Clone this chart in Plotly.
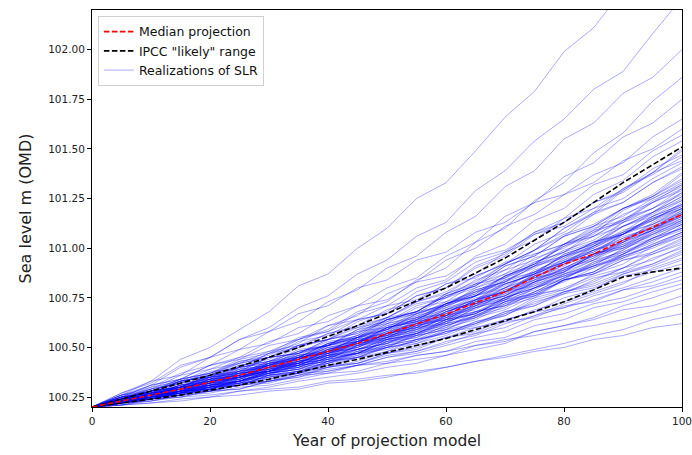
import plotly.graph_objects as go

years = list(range(0, 101, 5))

median_projection = [100.20, 100.23, 100.26, 100.29, 100.325, 100.36, 100.40, 100.44, 100.48, 100.52,
                     100.57, 100.62, 100.667, 100.725, 100.78, 100.855, 100.92, 100.97, 101.04, 101.105, 101.17]
likely_upper = [100.20, 100.24, 100.28, 100.32, 100.36, 100.405, 100.45, 100.50, 100.555, 100.61,
                100.67, 100.735, 100.80, 100.875, 100.95, 101.04, 101.13, 101.23, 101.33, 101.42, 101.51]
likely_lower = [100.20, 100.22, 100.24, 100.26, 100.285, 100.31, 100.34, 100.375, 100.41, 100.44,
                100.475, 100.51, 100.545, 100.59, 100.635, 100.68, 100.73, 100.79, 100.855, 100.88, 100.90]

realizations = [
    [100.20,100.21,100.22,100.24,100.25,100.28,100.29,100.30,100.33,100.34,100.36,100.37,100.40,100.43,100.45,100.48,100.50,100.54,100.56,100.60,100.62],
    [100.20,100.21,100.22,100.23,100.25,100.26,100.28,100.29,100.32,100.33,100.35,100.38,100.40,100.43,100.46,100.49,100.52,100.56,100.59,100.64,100.67],
    [100.20,100.22,100.25,100.27,100.29,100.32,100.34,100.37,100.38,100.41,100.43,100.46,100.48,100.51,100.54,100.56,100.59,100.61,100.64,100.68,100.72],
    [100.20,100.22,100.23,100.26,100.27,100.30,100.31,100.34,100.37,100.38,100.42,100.44,100.46,100.51,100.53,100.58,100.61,100.64,100.69,100.71,100.76],
    [100.20,100.21,100.23,100.25,100.26,100.28,100.30,100.33,100.35,100.37,100.40,100.42,100.46,100.49,100.52,100.58,100.61,100.65,100.71,100.75,100.80],
    [100.20,100.22,100.24,100.27,100.28,100.31,100.33,100.36,100.39,100.41,100.45,100.47,100.51,100.55,100.58,100.64,100.67,100.72,100.75,100.80,100.84],
    [100.20,100.23,100.26,100.30,100.32,100.35,100.38,100.42,100.44,100.47,100.51,100.54,100.58,100.60,100.64,100.68,100.70,100.74,100.79,100.83,100.88],
    [100.20,100.22,100.25,100.27,100.30,100.32,100.35,100.38,100.41,100.45,100.47,100.51,100.55,100.60,100.63,100.69,100.73,100.78,100.83,100.88,100.92],
    [100.20,100.22,100.24,100.25,100.28,100.29,100.33,100.35,100.38,100.41,100.45,100.48,100.53,100.56,100.62,100.66,100.72,100.77,100.82,100.90,100.95],
    [100.20,100.23,100.24,100.28,100.30,100.33,100.37,100.39,100.42,100.46,100.50,100.53,100.58,100.62,100.68,100.72,100.78,100.82,100.88,100.92,100.98],
    [100.20,100.24,100.27,100.30,100.35,100.38,100.41,100.46,100.48,100.53,100.56,100.59,100.65,100.68,100.71,100.77,100.79,100.85,100.88,100.95,101.00],
    [100.20,100.22,100.26,100.28,100.31,100.33,100.37,100.41,100.43,100.48,100.51,100.56,100.59,100.65,100.69,100.76,100.80,100.86,100.90,100.97,101.02],
    [100.20,100.21,100.24,100.27,100.28,100.31,100.33,100.37,100.40,100.43,100.48,100.52,100.56,100.62,100.66,100.73,100.77,100.84,100.90,100.98,101.04],
    [100.20,100.23,100.25,100.29,100.31,100.35,100.38,100.40,100.45,100.49,100.52,100.58,100.61,100.66,100.73,100.77,100.84,100.88,100.95,101.00,101.06],
    [100.20,100.24,100.28,100.33,100.35,100.40,100.43,100.48,100.51,100.55,100.60,100.63,100.69,100.72,100.78,100.81,100.86,100.91,100.95,101.02,101.08],
    [100.20,100.23,100.25,100.28,100.33,100.35,100.39,100.41,100.46,100.50,100.55,100.58,100.64,100.68,100.75,100.80,100.87,100.92,100.98,101.05,101.10],
    [100.20,100.22,100.25,100.26,100.30,100.31,100.36,100.38,100.42,100.47,100.50,100.56,100.59,100.66,100.70,100.78,100.83,100.90,100.97,101.05,101.12],
    [100.20,100.23,100.27,100.29,100.33,100.35,100.40,100.43,100.46,100.52,100.55,100.61,100.64,100.72,100.76,100.84,100.89,100.95,101.02,101.07,101.14],
    [100.20,100.25,100.28,100.34,100.37,100.42,100.45,100.51,100.54,100.58,100.64,100.67,100.72,100.78,100.82,100.87,100.93,100.96,101.03,101.09,101.16],
    [100.20,100.22,100.26,100.30,100.32,100.37,100.39,100.45,100.47,100.53,100.56,100.62,100.66,100.74,100.78,100.86,100.91,100.99,101.03,101.11,101.17],
    [100.20,100.22,100.24,100.28,100.29,100.33,100.37,100.39,100.44,100.47,100.53,100.57,100.63,100.67,100.75,100.80,100.88,100.94,101.03,101.09,101.18],
    [100.20,100.24,100.26,100.29,100.34,100.36,100.41,100.44,100.50,100.53,100.58,100.62,100.69,100.74,100.80,100.88,100.93,101.00,101.07,101.14,101.20],
    [100.20,100.24,100.30,100.33,100.39,100.42,100.48,100.51,100.57,100.60,100.65,100.72,100.75,100.82,100.85,100.92,100.96,101.03,101.07,101.16,101.22],
    [100.20,100.23,100.27,100.31,100.33,100.38,100.42,100.45,100.51,100.54,100.61,100.64,100.71,100.76,100.84,100.90,100.98,101.03,101.11,101.16,101.24],
    [100.20,100.23,100.24,100.28,100.31,100.33,100.38,100.42,100.44,100.51,100.54,100.61,100.65,100.73,100.77,100.86,100.92,101.01,101.08,101.18,101.26],
    [100.20,100.24,100.26,100.31,100.35,100.37,100.43,100.46,100.52,100.55,100.62,100.66,100.73,100.78,100.86,100.92,101.01,101.06,101.14,101.20,101.28],
    [100.20,100.25,100.31,100.34,100.41,100.44,100.51,100.54,100.61,100.64,100.71,100.74,100.82,100.85,100.93,100.97,101.02,101.10,101.14,101.24,101.31],
    [100.20,100.24,100.28,100.30,100.36,100.38,100.45,100.47,100.54,100.57,100.64,100.68,100.76,100.81,100.91,100.96,101.06,101.11,101.20,101.26,101.34],
    [100.20,100.23,100.26,100.27,100.33,100.34,100.40,100.42,100.49,100.52,100.60,100.63,100.72,100.76,100.86,100.91,101.02,101.07,101.19,101.26,101.37],
    [100.20,100.25,100.27,100.33,100.35,100.41,100.44,100.51,100.54,100.61,100.65,100.73,100.77,100.86,100.92,101.02,101.08,101.18,101.23,101.33,101.40],
    [100.20,100.26,100.30,100.37,100.41,100.49,100.52,100.60,100.63,100.71,100.74,100.83,100.86,100.95,100.99,101.07,101.11,101.20,101.25,101.35,101.43],
    [100.20,100.24,100.29,100.32,100.37,100.40,100.47,100.50,100.57,100.61,100.69,100.73,100.82,100.87,100.98,101.04,101.15,101.20,101.30,101.37,101.46],
    [100.20,100.23,100.27,100.28,100.34,100.36,100.42,100.45,100.52,100.56,100.64,100.68,100.77,100.82,100.92,100.99,101.10,101.17,101.29,101.38,101.49],
    [100.20,100.25,100.29,100.34,100.37,100.44,100.47,100.55,100.58,100.67,100.71,100.80,100.84,100.96,101.02,101.14,101.20,101.32,101.37,101.49,101.57],
    [100.20,100.27,100.32,100.41,100.45,100.54,100.58,100.67,100.71,100.80,100.84,100.94,100.98,101.08,101.13,101.23,101.27,101.37,101.43,101.56,101.65],
    [100.20,100.25,100.31,100.34,100.41,100.45,100.53,100.57,100.66,100.71,100.80,100.85,100.96,101.03,101.16,101.23,101.36,101.43,101.56,101.63,101.75],
    [100.20,100.24,100.28,100.33,100.36,100.43,100.46,100.54,100.59,100.68,100.73,100.84,100.90,101.03,101.10,101.24,101.33,101.48,101.58,101.74,101.86],
    [100.20,100.26,100.33,100.36,100.45,100.49,100.58,100.63,100.73,100.79,100.90,100.96,101.08,101.16,101.31,101.39,101.55,101.63,101.78,101.86,102.00],
    [100.20,100.26,100.31,100.40,100.45,100.54,100.60,100.70,100.76,100.87,100.94,101.06,101.13,101.29,101.39,101.54,101.65,101.80,101.89,102.08,102.26],
    [100.20,100.27,100.33,100.44,100.50,100.59,100.68,100.81,100.87,101.00,101.10,101.25,101.33,101.49,101.66,101.79,101.99,102.11,102.30,102.42,102.60],
    [100.20,100.23,100.25,100.28,100.30,100.33,100.35,100.37,100.41,100.42,100.46,100.48,100.52,100.57,100.60,100.66,100.70,100.76,100.80,100.85,100.90],
    [100.20,100.22,100.24,100.26,100.29,100.31,100.35,100.37,100.42,100.45,100.50,100.53,100.59,100.62,100.68,100.71,100.77,100.80,100.86,100.89,100.94],
    [100.20,100.22,100.25,100.28,100.29,100.33,100.36,100.38,100.43,100.45,100.50,100.52,100.58,100.61,100.67,100.71,100.78,100.81,100.87,100.91,100.97],
    [100.20,100.22,100.23,100.26,100.28,100.31,100.32,100.36,100.40,100.42,100.47,100.49,100.55,100.58,100.64,100.68,100.75,100.79,100.87,100.92,100.99],
    [100.20,100.24,100.26,100.30,100.32,100.35,100.37,100.41,100.43,100.47,100.49,100.54,100.57,100.63,100.66,100.74,100.78,100.83,100.90,100.94,101.01],
    [100.20,100.22,100.25,100.26,100.30,100.32,100.37,100.39,100.44,100.47,100.54,100.57,100.64,100.67,100.74,100.77,100.84,100.87,100.94,100.97,101.03],
    [100.20,100.23,100.26,100.27,100.32,100.33,100.38,100.40,100.45,100.47,100.53,100.56,100.62,100.65,100.73,100.76,100.84,100.87,100.94,100.98,101.05],
    [100.20,100.22,100.24,100.27,100.28,100.32,100.34,100.38,100.40,100.45,100.48,100.54,100.57,100.63,100.67,100.75,100.79,100.87,100.92,101.01,101.07],
    [100.20,100.24,100.27,100.29,100.34,100.35,100.40,100.41,100.46,100.47,100.53,100.55,100.61,100.65,100.72,100.76,100.84,100.88,100.96,101.01,101.08],
    [100.20,100.23,100.24,100.28,100.29,100.34,100.36,100.42,100.44,100.51,100.55,100.62,100.65,100.72,100.76,100.83,100.87,100.94,100.98,101.04,101.09],
    [100.20,100.22,100.27,100.29,100.31,100.36,100.38,100.43,100.45,100.51,100.53,100.60,100.62,100.70,100.74,100.82,100.86,100.93,100.97,101.05,101.10],
    [100.20,100.23,100.24,100.27,100.30,100.31,100.36,100.37,100.43,100.45,100.51,100.54,100.60,100.64,100.71,100.75,100.84,100.88,100.97,101.03,101.11],
    [100.20,100.23,100.28,100.29,100.35,100.36,100.41,100.42,100.48,100.49,100.54,100.56,100.63,100.67,100.74,100.79,100.87,100.91,101.00,101.05,101.12],
    [100.20,100.22,100.25,100.28,100.29,100.35,100.37,100.43,100.45,100.53,100.56,100.64,100.67,100.75,100.78,100.86,100.90,100.97,101.01,101.08,101.13],
    [100.20,100.22,100.26,100.30,100.31,100.37,100.38,100.44,100.46,100.53,100.55,100.62,100.64,100.72,100.76,100.85,100.88,100.97,101.00,101.09,101.14],
    [100.20,100.23,100.24,100.28,100.29,100.33,100.35,100.40,100.42,100.48,100.50,100.57,100.60,100.68,100.71,100.80,100.84,100.93,100.99,101.08,101.15],
    [100.20,100.25,100.27,100.31,100.34,100.38,100.40,100.45,100.47,100.52,100.54,100.60,100.63,100.71,100.75,100.83,100.88,100.97,101.01,101.10,101.16],
    [100.20,100.22,100.26,100.27,100.31,100.34,100.39,100.42,100.48,100.52,100.59,100.64,100.71,100.76,100.82,100.87,100.94,100.99,101.06,101.10,101.17],
    [100.20,100.24,100.26,100.30,100.32,100.37,100.39,100.45,100.47,100.54,100.57,100.63,100.66,100.74,100.78,100.87,100.92,100.99,101.04,101.12,101.18],
    [100.20,100.22,100.25,100.26,100.31,100.32,100.37,100.39,100.45,100.47,100.54,100.57,100.64,100.67,100.75,100.81,100.89,100.95,101.04,101.10,101.19],
    [100.20,100.24,100.28,100.30,100.36,100.37,100.42,100.44,100.50,100.51,100.57,100.60,100.67,100.71,100.79,100.84,100.93,100.98,101.07,101.12,101.20],
    [100.20,100.23,100.25,100.29,100.30,100.36,100.38,100.45,100.48,100.55,100.59,100.67,100.72,100.79,100.83,100.91,100.96,101.03,101.08,101.15,101.21],
    [100.20,100.23,100.27,100.29,100.34,100.36,100.42,100.44,100.50,100.53,100.60,100.63,100.70,100.74,100.83,100.88,100.96,101.01,101.09,101.14,101.22],
    [100.20,100.22,100.25,100.28,100.31,100.32,100.38,100.40,100.46,100.48,100.55,100.58,100.66,100.69,100.78,100.83,100.92,100.97,101.07,101.14,101.23],
    [100.20,100.25,100.27,100.33,100.35,100.40,100.42,100.47,100.51,100.53,100.59,100.62,100.69,100.74,100.82,100.87,100.97,101.02,101.11,101.17,101.25],
    [100.20,100.23,100.26,100.28,100.33,100.35,100.41,100.44,100.51,100.55,100.64,100.68,100.76,100.81,100.89,100.94,101.02,101.06,101.15,101.20,101.27],
    [100.20,100.24,100.26,100.31,100.33,100.39,100.41,100.48,100.51,100.58,100.60,100.68,100.71,100.80,100.85,100.95,101.00,101.09,101.13,101.23,101.29],
    [100.20,100.23,100.26,100.27,100.32,100.33,100.39,100.41,100.47,100.50,100.57,100.61,100.68,100.73,100.82,100.87,100.97,101.02,101.13,101.20,101.30],
    [100.20,100.24,100.29,100.32,100.38,100.39,100.45,100.47,100.53,100.55,100.61,100.65,100.72,100.77,100.86,100.92,101.01,101.08,101.17,101.23,101.32],
    [100.20,100.23,100.26,100.30,100.32,100.38,100.41,100.47,100.51,100.59,100.65,100.73,100.78,100.86,100.92,100.99,101.07,101.12,101.20,101.25,101.33],
    [100.20,100.23,100.28,100.30,100.36,100.38,100.45,100.47,100.54,100.57,100.65,100.68,100.76,100.81,100.91,100.96,101.06,101.11,101.20,101.26,101.35],
    [100.20,100.22,100.26,100.28,100.33,100.34,100.40,100.43,100.49,100.52,100.60,100.64,100.72,100.77,100.86,100.92,101.02,101.09,101.20,101.27,101.38],
    [100.20,100.26,100.28,100.34,100.37,100.43,100.45,100.51,100.54,100.60,100.63,100.71,100.75,100.84,100.89,100.99,101.06,101.17,101.23,101.33,101.41],
    [100.20,100.24,100.26,100.31,100.33,100.40,100.43,100.50,100.54,100.63,100.68,100.78,100.83,100.93,100.98,101.08,101.13,101.23,101.28,101.38,101.44],
    [100.20,100.25,100.27,100.33,100.36,100.42,100.45,100.53,100.56,100.64,100.67,100.76,100.80,100.90,100.96,101.07,101.13,101.23,101.29,101.40,101.47],
    [100.20,100.23,100.27,100.29,100.34,100.36,100.42,100.45,100.52,100.56,100.64,100.68,100.77,100.83,100.92,100.99,101.10,101.18,101.30,101.38,101.50],
    [100.20,100.21,100.24,100.25,100.28,100.29,100.33,100.35,100.40,100.42,100.47,100.50,100.55,100.57,100.63,100.65,100.71,100.73,100.79,100.81,100.86],
    [100.20,100.23,100.24,100.27,100.29,100.32,100.33,100.36,100.37,100.41,100.42,100.46,100.48,100.53,100.55,100.61,100.64,100.70,100.73,100.78,100.82],
    [100.20,100.26,100.29,100.36,100.39,100.45,100.48,100.54,100.58,100.64,100.67,100.76,100.80,100.91,100.97,101.08,101.15,101.27,101.34,101.46,101.54],
    [100.20,100.24,100.28,100.30,100.36,100.40,100.47,100.52,100.61,100.66,100.77,100.83,100.94,101.00,101.11,101.17,101.27,101.33,101.44,101.50,101.60],
    [100.20,100.22,100.25,100.27,100.30,100.33,100.37,100.40,100.45,100.49,100.55,100.59,100.65,100.70,100.75,100.80,100.86,100.90,100.96,101.01,101.06],
    [100.20,100.23,100.25,100.29,100.31,100.35,100.38,100.42,100.46,100.49,100.54,100.57,100.63,100.68,100.73,100.80,100.85,100.91,100.96,101.02,101.08],
    [100.20,100.24,100.26,100.30,100.33,100.37,100.39,100.43,100.46,100.49,100.52,100.57,100.62,100.66,100.73,100.78,100.85,100.91,100.97,101.04,101.10],
    [100.20,100.22,100.25,100.27,100.31,100.33,100.38,100.41,100.47,100.51,100.57,100.62,100.68,100.73,100.79,100.85,100.89,100.96,101.00,101.07,101.12],
    [100.20,100.22,100.25,100.26,100.30,100.31,100.36,100.38,100.43,100.46,100.52,100.55,100.61,100.66,100.72,100.78,100.85,100.92,100.99,101.07,101.14],
    [100.20,100.23,100.26,100.29,100.33,100.35,100.40,100.43,100.48,100.51,100.57,100.60,100.66,100.71,100.78,100.84,100.90,100.97,101.02,101.09,101.15],
    [100.20,100.23,100.24,100.28,100.30,100.35,100.38,100.43,100.47,100.53,100.58,100.65,100.69,100.76,100.81,100.88,100.93,100.99,101.05,101.10,101.16],
    [100.20,100.24,100.28,100.30,100.35,100.37,100.41,100.45,100.48,100.52,100.55,100.61,100.64,100.71,100.76,100.83,100.90,100.96,101.04,101.09,101.17],
    [100.20,100.23,100.27,100.29,100.33,100.36,100.41,100.44,100.49,100.52,100.58,100.61,100.68,100.73,100.80,100.85,100.93,100.98,101.05,101.11,101.18],
    [100.20,100.22,100.26,100.27,100.32,100.34,100.39,100.42,100.49,100.53,100.60,100.64,100.72,100.76,100.84,100.88,100.96,101.00,101.08,101.12,101.19],
    [100.20,100.23,100.24,100.28,100.29,100.34,100.36,100.41,100.43,100.49,100.52,100.59,100.62,100.70,100.74,100.83,100.88,100.97,101.03,101.13,101.20],
    [100.20,100.24,100.26,100.31,100.32,100.38,100.40,100.46,100.48,100.55,100.57,100.65,100.67,100.76,100.80,100.89,100.94,101.02,101.07,101.15,101.21],
    [100.20,100.25,100.27,100.32,100.34,100.39,100.41,100.46,100.49,100.54,100.56,100.63,100.66,100.74,100.78,100.87,100.93,101.01,101.07,101.16,101.22],
    [100.20,100.22,100.26,100.28,100.32,100.35,100.41,100.44,100.51,100.55,100.63,100.67,100.75,100.80,100.87,100.93,100.98,101.06,101.11,101.18,101.24],
    [100.20,100.23,100.27,100.29,100.35,100.37,100.43,100.45,100.52,100.54,100.62,100.65,100.72,100.76,100.85,100.91,100.99,101.04,101.13,101.18,101.26],
    [100.20,100.23,100.26,100.27,100.31,100.33,100.38,100.41,100.47,100.50,100.57,100.60,100.68,100.72,100.80,100.86,100.95,101.01,101.11,101.18,101.28],
    [100.20,100.25,100.28,100.33,100.36,100.41,100.43,100.48,100.51,100.56,100.59,100.66,100.70,100.78,100.83,100.93,100.98,101.08,101.14,101.23,101.30],
    [100.20,100.22,100.26,100.28,100.33,100.35,100.40,100.42,100.48,100.50,100.56,100.59,100.66,100.70,100.77,100.82,100.90,100.94,101.01,101.06,101.13],
    [100.20,100.23,100.25,100.29,100.30,100.36,100.38,100.44,100.48,100.55,100.59,100.67,100.71,100.79,100.83,100.91,100.95,101.03,101.07,101.15,101.20],
    [100.20,100.24,100.26,100.32,100.34,100.40,100.42,100.49,100.51,100.59,100.62,100.70,100.73,100.82,100.87,100.97,101.02,101.11,101.16,101.25,101.32],
]

y_ticks = [100.25, 100.50, 100.75, 101.00, 101.25, 101.50, 101.75, 102.00]
x_ticks = [0, 20, 40, 60, 80, 100]

fig = go.Figure()

for i, r in enumerate(realizations):
    fig.add_trace(go.Scatter(
        x=years, y=r, mode="lines",
        line=dict(color="rgba(0,0,255,0.42)", width=0.8),
        name="Realizations of SLR", legendgroup="real",
        showlegend=(i == 0), legendrank=3, hoverinfo="skip",
    ))

dash_style = "5.5px,2.5px"
fig.add_trace(go.Scatter(
    x=years, y=likely_upper, mode="lines",
    line=dict(color="black", width=1.6, dash=dash_style),
    name='IPCC "likely" range', legendgroup="ipcc", showlegend=True, legendrank=2,
))
fig.add_trace(go.Scatter(
    x=years, y=likely_lower, mode="lines",
    line=dict(color="black", width=1.6, dash=dash_style),
    name='IPCC "likely" range', legendgroup="ipcc", showlegend=False, legendrank=2,
))
fig.add_trace(go.Scatter(
    x=years, y=median_projection, mode="lines",
    line=dict(color="red", width=1.6, dash=dash_style),
    name="Median projection", showlegend=True, legendrank=1,
))

axis_common = dict(
    showline=True, linecolor="black", linewidth=1, mirror=True,
    ticks="outside", ticklen=4, tickcolor="black", tickwidth=1,
    showgrid=False, zeroline=False, automargin=False,
    ticklabeloverflow="allow",
    tickfont=dict(family="DejaVu Sans", size=10.5, color="#222"),
)

fig.update_layout(
    width=692, height=455,
    margin=dict(l=92, r=10, t=10, b=48),
    paper_bgcolor="white", plot_bgcolor="white",
    font=dict(family="DejaVu Sans", color="#222"),
    xaxis=dict(range=[0, 100], tickvals=x_ticks,
               title=dict(text="Year of projection model", font=dict(size=15.5), standoff=9),
               **axis_common),
    yaxis=dict(range=[100.2, 102.2], tickvals=y_ticks, tickformat=".2f",
               title=dict(text="Sea level m (OMD)", font=dict(size=16), standoff=12),
               **axis_common),
    legend=dict(x=0.01, y=0.985, xanchor="left", yanchor="top",
                bgcolor="rgba(255,255,255,0.85)", bordercolor="#d0d0d0", borderwidth=1,
                font=dict(family="DejaVu Sans", size=12.5, color="#111"),
                itemwidth=30, tracegroupgap=0),
    showlegend=True,
)

fig.write_html("out.html", config={"displayModeBar": False},
               post_script="document.body.style.margin='0';")
